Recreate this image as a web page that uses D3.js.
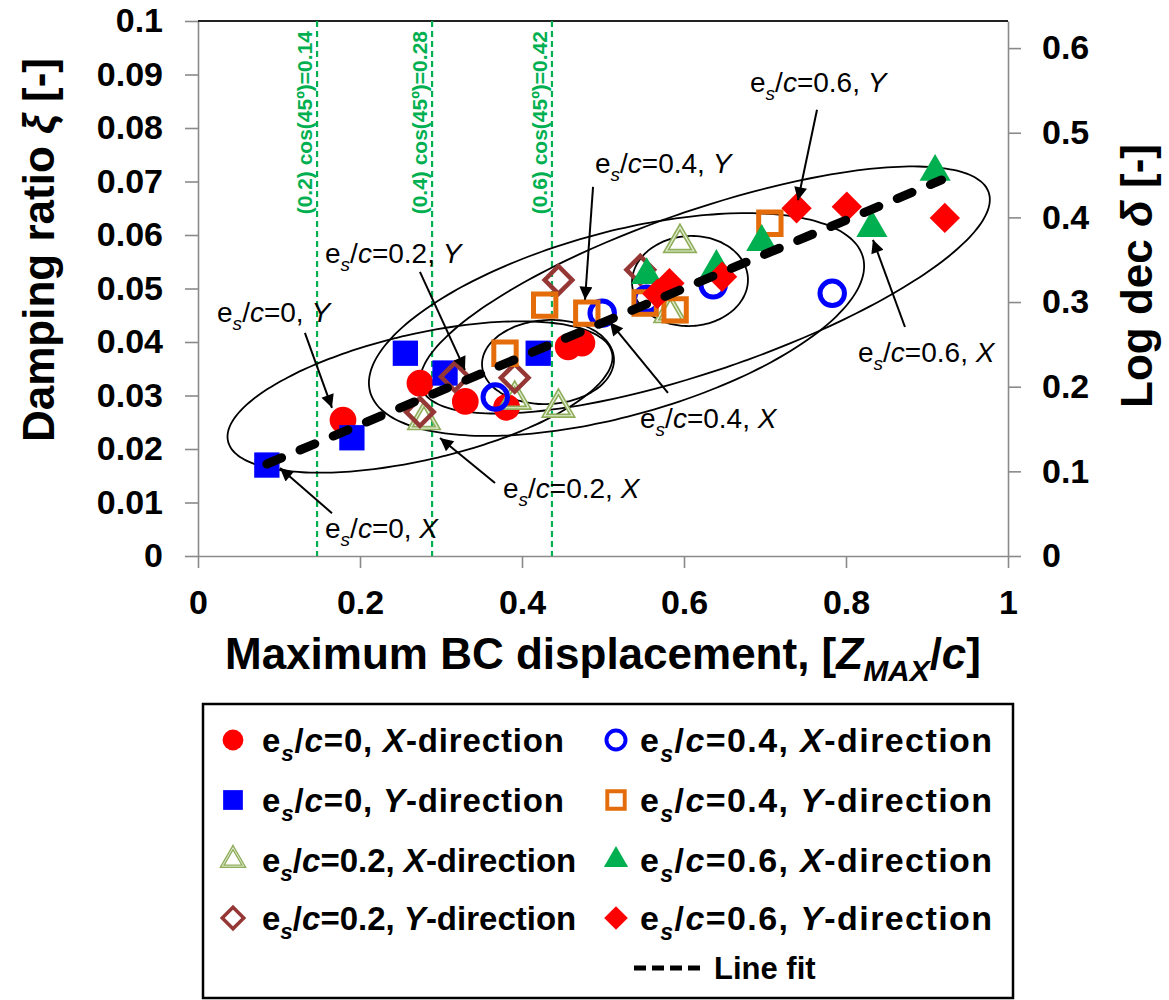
<!DOCTYPE html>
<html><head><meta charset="utf-8">
<script src="https://cdn.jsdelivr.net/npm/d3@7"></script>
<style>body{margin:0;background:#fff;} svg{display:block;font-family:"Liberation Sans",Arial,sans-serif;}</style>
</head><body><svg id="c" width="1169" height="1000"></svg>
<script>
// ---------- data ----------
const xTickValues = [0, 0.2, 0.4, 0.6, 0.8, 1];
const xTickLabels = ["0", "0.2", "0.4", "0.6", "0.8", "1"];
const yTickValues = [0, 0.01, 0.02, 0.03, 0.04, 0.05, 0.06, 0.07, 0.08, 0.09, 0.1];
const yTickLabels = ["0", "0.01", "0.02", "0.03", "0.04", "0.05", "0.06", "0.07", "0.08", "0.09", "0.1"];
const rTickValues = [0, 0.1, 0.2, 0.3, 0.4, 0.5, 0.6];
const rTickLabels = ["0", "0.1", "0.2", "0.3", "0.4", "0.5", "0.6"];

const ec0X_x = [0.179, 0.274, 0.330, 0.381, 0.457, 0.474];
const ec0X_y = [0.0254, 0.0323, 0.0289, 0.0278, 0.0391, 0.0398];
const ec0Y_x = [0.085, 0.190, 0.256, 0.305, 0.420];
const ec0Y_y = [0.0170, 0.0221, 0.0379, 0.0342, 0.0379];
const ec02X_x = [0.279, 0.391, 0.445, 0.583, 0.595];
const ec02X_y = [0.0254, 0.0292, 0.0277, 0.0454, 0.0585];
const ec02Y_x = [0.274, 0.317, 0.391, 0.445, 0.546];
const ec02Y_y = [0.0269, 0.0335, 0.0333, 0.0516, 0.0535];
const ec04X_x = [0.367, 0.499, 0.554, 0.636, 0.783];
const ec04X_y = [0.0297, 0.0454, 0.0480, 0.0507, 0.0491];
const ec04Y_x = [0.379, 0.428, 0.480, 0.552, 0.589, 0.706];
const ec04Y_y = [0.0379, 0.0469, 0.0454, 0.0473, 0.0460, 0.0622];
const ec06X_x = [0.554, 0.640, 0.696, 0.832, 0.910];
const ec06X_y = [0.0525, 0.0540, 0.0587, 0.0613, 0.0718];
const ec06Y_x = [0.567, 0.582, 0.647, 0.739, 0.801, 0.922];
const ec06Y_y = [0.0490, 0.0510, 0.0522, 0.0650, 0.0653, 0.0632];

const lineFitX = [0.085, 0.918];
const lineFitY = [0.0172, 0.0703];

const seriesEc = ["0", "0", "0.2", "0.2", "0.4", "0.4", "0.6", "0.6"];
const seriesDir = ["X", "Y", "X", "Y", "X", "Y", "X", "Y"];

const guideX = [0.147, 0.289, 0.437];
const guideLabels = ["(0.2) cos(45º)=0.14", "(0.4) cos(45º)=0.28", "(0.6) cos(45º)=0.42"];

// annotations (data units): text anchor, arrow start, arrow end
const annEc = ["0", "0", "0.2", "0.2", "0.4", "0.4", "0.6", "0.6"];
const annDir = ["Y", "X", "Y", "X", "Y", "X", "Y", "X"];
const annTextX = [0.0235, 0.1568, 0.1568, 0.3765, 0.4901, 0.5457, 0.6815, 0.8148];
const annTextY = [0.0437, 0.00336, 0.0548, 0.0108, 0.0716, 0.0239, 0.0867, 0.0363];
const annFromX = [0.132, 0.1654, 0.274, 0.3667, 0.4877, 0.5802, 0.7642, 0.8728];
const annFromY = [0.0417, 0.0080, 0.0531, 0.01364, 0.0690, 0.0305, 0.0834, 0.0428];
const annToX = [0.1654, 0.1012, 0.3296, 0.2988, 0.4778, 0.5086, 0.7407, 0.8333];
const annToY = [0.0277, 0.01645, 0.0348, 0.02206, 0.0479, 0.0437, 0.0665, 0.0591];

// ellipses (data units): centre, major semi-diameter vector, minor semi-diameter vector
const ellCx = [0.2741, 0.4321, 0.5167, 0.6074, 0.6259];
const ellCy = [0.02972, 0.03626, 0.04327, 0.0514, 0.04972];
const ellUx = [0.2370, 0.0814, 0.3042, 0.0715, 0.3502];
const ellUy = [0.00828, 0.00065, 0.0126, 0.00057, 0.01826];
const ellVx = [-0.0175, -0.0027, -0.0300, -0.0029, -0.0321];
const ellVy = [0.01147, 0.00784, 0.01658, 0.0084, 0.01414];

// ---------- chart ----------
const svg = d3.select("#c");
const x = d3.scaleLinear().domain([0, 1]).range([198, 1008]);
const y = d3.scaleLinear().domain([0, 0.1]).range([556, 21]);
const yR = d3.scaleLinear().domain([0, 0.632]).range([556, 21]);
const axisGray = "#8a8a8a";
const tickFont = 34;

function styleAxis(g) {
  g.select(".domain").attr("stroke", axisGray).attr("stroke-width", 1.6);
  g.selectAll(".tick line").attr("stroke", axisGray).attr("stroke-width", 1.6);
  g.selectAll(".tick text").attr("fill", "#000").attr("font-size", tickFont)
    .attr("font-weight", "bold").attr("font-family", '"Liberation Sans",Arial,sans-serif');
}

svg.append("g").attr("transform", `translate(0,${y(0)})`)
  .call(d3.axisBottom(x).tickValues(xTickValues).tickFormat((d, i) => xTickLabels[i]).tickSize(12).tickPadding(22).tickSizeOuter(0))
  .call(styleAxis);
svg.append("g").attr("transform", `translate(${x(0)},0)`)
  .call(d3.axisLeft(y).tickValues(yTickValues).tickFormat((d, i) => yTickLabels[i]).tickSize(13).tickPadding(22).tickSizeOuter(0))
  .call(styleAxis);
svg.append("g").attr("transform", `translate(${x(1)},0)`)
  .call(d3.axisRight(yR).tickValues(rTickValues).tickFormat((d, i) => rTickLabels[i]).tickSize(13).tickPadding(21).tickSizeOuter(0))
  .call(styleAxis);
// top frame line
svg.append("line").attr("x1", x(0)).attr("x2", x(1)).attr("y1", y(0.1)).attr("y2", y(0.1))
  .attr("stroke", "#222").attr("stroke-width", 1.8);

// rich text helper
function rich(sel, parts, fs) {
  let shift = 0;
  parts.forEach(p => {
    const sz = p.sub ? fs * 0.68 : fs;
    const target = p.sub ? fs * 0.28 : 0;
    const ts = sel.append("tspan").text(p.t).attr("font-size", sz);
    if (target !== shift) { ts.attr("dy", target - shift); shift = target; }
    if (p.it) ts.attr("font-style", "italic");
  });
}
function ecParts(ec, dir, suffix) {
  return [{ t: "e" }, { t: "s", sub: true, it: true }, { t: "/" }, { t: "c", it: true },
          { t: "=" + ec + ", " }, { t: dir, it: true }].concat(suffix ? [{ t: suffix }] : []);
}

// axis titles
const yt = svg.append("text").attr("transform", `translate(54,250) rotate(-90)`)
  .attr("text-anchor", "middle").attr("font-weight", "bold");
rich(yt, [{ t: "Damping ratio " }, { t: "ξ", it: true }, { t: " [-]" }], 44);
const xt = svg.append("text").attr("x", x(0.5)).attr("y", 669)
  .attr("text-anchor", "middle").attr("font-weight", "bold");
rich(xt, [{ t: "Maximum BC displacement, [" }, { t: "Z", it: true }, { t: "MAX", sub: true, it: true }, { t: "/" }, { t: "c", it: true }, { t: "]" }], 44);
const rt = svg.append("text").attr("transform", `translate(1152,276) rotate(-90)`)
  .attr("text-anchor", "middle").attr("font-weight", "bold");
rich(rt, [{ t: "Log dec " }, { t: "δ", it: true }, { t: " [-]" }], 44);

// green guide lines
const green = "#00b050";
guideX.forEach((gx, i) => {
  svg.append("line").attr("x1", x(gx)).attr("x2", x(gx)).attr("y1", y(0.1)).attr("y2", y(0))
    .attr("stroke", green).attr("stroke-width", 2.2).attr("stroke-dasharray", "6,4");
  svg.append("text").attr("transform", `translate(${x(gx) - 5},${y(0.1) + 10}) rotate(-90)`)
    .attr("text-anchor", "end").attr("fill", green).attr("font-size", 21).attr("font-weight", "bold")
    .text(guideLabels[i]);
});

// ellipses
ellCx.forEach((cx, i) => {
  const pts = d3.range(0, 360, 3).map(a => {
    const t = a * Math.PI / 180;
    return [x(cx + ellUx[i] * Math.cos(t) + ellVx[i] * Math.sin(t)),
            y(ellCy[i] + ellUy[i] * Math.cos(t) + ellVy[i] * Math.sin(t))];
  });
  svg.append("path").attr("d", d3.line().curve(d3.curveCardinalClosed)(pts))
    .attr("fill", "none").attr("stroke", "#000").attr("stroke-width", 1.8);
});

// markers
const specs = [
  { xs: ec0X_x, ys: ec0X_y, type: d3.symbolCircle, size: 560, fill: "#ff0000", stroke: "none", sw: 0, rot: 0 },
  { xs: ec0Y_x, ys: ec0Y_y, type: d3.symbolSquare, size: 640, fill: "#0000ff", stroke: "none", sw: 0, rot: 0 },
  { xs: ec02X_x, ys: ec02X_y, type: d3.symbolTriangle, size: 330, fill: "none", stroke: "#8fae5b", sw: 4.5, rot: 0, dbl: true },
  { xs: ec02Y_x, ys: ec02Y_y, type: d3.symbolSquare, size: 380, fill: "none", stroke: "#953735", sw: 4.5, rot: 45 },
  { xs: ec04X_x, ys: ec04X_y, type: d3.symbolCircle, size: 470, fill: "none", stroke: "#0000ff", sw: 5, rot: 0 },
  { xs: ec04Y_x, ys: ec04Y_y, type: d3.symbolSquare, size: 500, fill: "none", stroke: "#e46c0a", sw: 5, rot: 0 },
  { xs: ec06X_x, ys: ec06X_y, type: d3.symbolTriangle, size: 420, fill: "#00b050", stroke: "none", sw: 0, rot: 0 },
  { xs: ec06Y_x, ys: ec06Y_y, type: d3.symbolSquare, size: 460, fill: "#ff0000", stroke: "none", sw: 0, rot: 45 }
];
function drawMarker(g, s, cx, cy, scale) {
  const p = d3.symbol().type(s.type).size(s.size * scale * scale)();
  g.append("path").attr("d", p).attr("transform", `translate(${cx},${cy}) rotate(${s.rot})`)
    .attr("fill", s.fill).attr("stroke", s.stroke).attr("stroke-width", s.sw * scale).attr("stroke-linejoin", "miter");
  if (s.dbl) {
    g.append("path").attr("d", p).attr("transform", `translate(${cx},${cy}) rotate(${s.rot})`)
      .attr("fill", "none").attr("stroke", "#e6eed8").attr("stroke-width", 1.2 * scale);
  }
}
const mg = svg.append("g");
specs.forEach(s => s.xs.forEach((vx, j) => drawMarker(mg, s, x(vx), y(s.ys[j]), 1)));

// line fit
svg.append("line").attr("x1", x(lineFitX[0])).attr("y1", y(lineFitY[0]))
  .attr("x2", x(lineFitX[1])).attr("y2", y(lineFitY[1]))
  .attr("stroke", "#000").attr("stroke-width", 9).attr("stroke-linecap", "round").attr("stroke-dasharray", "16,20");

// arrows + annotation labels
svg.append("defs").append("marker").attr("id", "ah").attr("viewBox", "0 0 10 10")
  .attr("refX", 10).attr("refY", 5).attr("markerWidth", 18).attr("markerHeight", 13)
  .attr("markerUnits", "userSpaceOnUse").attr("orient", "auto")
  .append("path").attr("d", "M0,0 L10,5 L0,10 Z").attr("fill", "#000");
annEc.forEach((ec, i) => {
  svg.append("line").attr("x1", x(annFromX[i])).attr("y1", y(annFromY[i]))
    .attr("x2", x(annToX[i])).attr("y2", y(annToY[i]))
    .attr("stroke", "#000").attr("stroke-width", 2).attr("marker-end", "url(#ah)");
  const t = svg.append("text").attr("x", x(annTextX[i])).attr("y", y(annTextY[i]));
  rich(t, ecParts(ec, annDir[i]), 28);
});

// legend
const lg = svg.append("g");
lg.append("rect").attr("x", 203).attr("y", 704).attr("width", 810).attr("height", 294)
  .attr("fill", "#fff").attr("stroke", "#000").attr("stroke-width", 2.5);
const rowY = [740, 800, 860, 918];
specs.forEach((s, i) => {
  const col = i < 4 ? 0 : 1;
  const row = i % 4;
  const mx = col === 0 ? 233 : 616;
  const tx = col === 0 ? 262 : 640;
  drawMarker(lg, s, mx, rowY[row], 0.78);
  const t = lg.append("text").attr("x", tx).attr("y", rowY[row] + 12).attr("font-weight", "bold");
  if (col === 1) t.attr("textLength", 352).attr("lengthAdjust", "spacing");
  else if (row < 2) t.attr("textLength", 302).attr("lengthAdjust", "spacing");
  rich(t, ecParts(seriesEc[i], seriesDir[i], "-direction"), col === 0 ? 33 : 34);
});
lg.append("line").attr("x1", 634).attr("x2", 700).attr("y1", 968).attr("y2", 968)
  .attr("stroke", "#000").attr("stroke-width", 5).attr("stroke-dasharray", "12,6");
lg.append("text").attr("x", 714).attr("y", 979).attr("font-weight", "bold").attr("font-size", 31).text("Line fit");
</script></body></html>
